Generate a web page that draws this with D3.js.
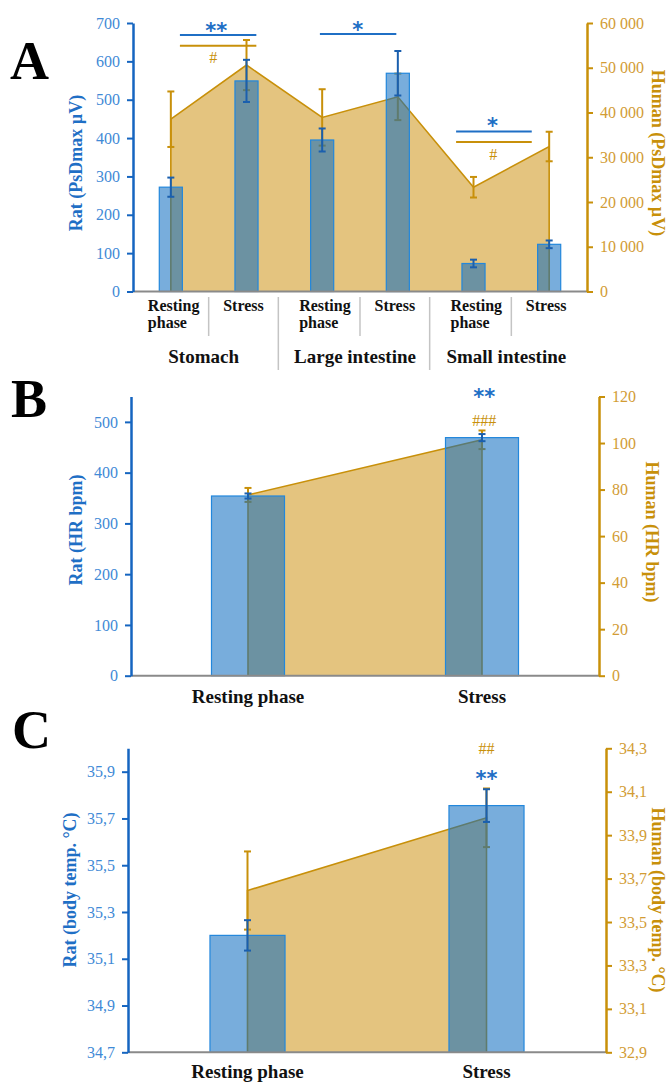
<!DOCTYPE html>
<html>
<head>
<meta charset="utf-8">
<style>
  body { margin: 0; background: #fff; }
</style>
</head>
<body>
<div id="chart"></div>
<script src="https://d3js.org/d3.v7.min.js"></script>
<script>
// ---- data ----
// A: pressure PsDmax (rat left axis, human right axis)
var giGroups = ["Stomach", "Large intestine", "Small intestine"];
var giPhases = ["Resting phase", "Stress"];
var ratPsd = [272, 549, 395, 569, 73, 123];
var ratPsdErr = [25, 55, 30, 58, 10, 10];
var humanPsd = [38500, 50600, 38900, 43500, 23300, 32400];
var humanPsdErr = [6200, 5600, 6300, 5200, 2300, 3300];
var ticksRatPsd = [0, 100, 200, 300, 400, 500, 600, 700];
var ticksHumanPsd = [0, 10000, 20000, 30000, 40000, 50000, 60000];

// B: heart rate
var phases = ["Resting phase", "Stress"];
var ratHr = [354, 469];
var ratHrErr = [5, 7];
var humanHr = [77.7, 101.4];
var humanHrErr = [3, 4];
var ticksRatHr = [0, 100, 200, 300, 400, 500];
var ticksHumanHr = [0, 20, 40, 60, 80, 100, 120];

// C: body temperature
var ratTemp = [35.2, 35.755];
var ratTempErr = [0.065, 0.07];
var humanTemp = [33.645, 33.98];
var humanTempErr = [0.18, 0.135];
var ticksRatTemp = [34.7, 34.9, 35.1, 35.3, 35.5, 35.7, 35.9];
var ticksHumanTemp = [32.9, 33.1, 33.3, 33.5, 33.7, 33.9, 34.1, 34.3];

// significance marks (x in category units, y in rat-axis units)
var sigA = [
  { x1: 0.62, x2: 1.63, v: 669, c: "b", t: "**", tx: 1.10, tv: 660 },
  { x1: 0.62, x2: 1.63, v: 641, c: "o", t: "#",  tx: 1.06, tv: 596 },
  { x1: 2.47, x2: 3.48, v: 671, c: "b", t: "*",  tx: 2.97, tv: 663 },
  { x1: 4.27, x2: 5.27, v: 417, c: "b", t: "*",  tx: 4.75, tv: 413 },
  { x1: 4.27, x2: 5.27, v: 390, c: "o", t: "#",  tx: 4.76, tv: 343 }
];
var sigB = [
  { c: "b", t: "**",  tx: 1.51, tv: 535 },
  { c: "o", t: "###", tx: 1.51, tv: 491 }
];
var sigC = [
  { c: "o", t: "##", tx: 1.5, tv: 35.975 },
  { c: "b", t: "**", tx: 1.5, tv: 35.84 }
];

// ---- style ----
var SERIF = "'Liberation Serif', 'Times New Roman', Times, 'DejaVu Serif', serif";
var SANS = "'DejaVu Sans', 'Liberation Sans', Arial, sans-serif";
var BLUE_AXIS = "#1565c0", BLUE_TXT = "#3f8ad6", BLUE_TITLE = "#1f6fc5", BLUE_ERR = "#1a5fae";
var GOLD = "#c8900a", GOLD_TXT = "#d29c34";
var fmtSpace = function (v) { return d3.format(",")(v).replace(/,/g, " "); };
var fmtComma = function (v) { return d3.format(".1f")(v).replace(".", ","); };

var svg = d3.select("#chart").append("svg")
    .attr("width", 671)
    .attr("height", 1084)
    .style("font-family", SERIF);

function errBars(g, vals, errs, y, cx, color, cap) {
  var e = g.append("g").attr("stroke", color).attr("stroke-width", 2);
  vals.forEach(function (v, i) {
    var x = cx(i);
    e.append("line").attr("x1", x).attr("x2", x).attr("y1", y(v - errs[i])).attr("y2", y(v + errs[i]));
    e.append("line").attr("x1", x - cap / 2).attr("x2", x + cap / 2).attr("y1", y(v - errs[i])).attr("y2", y(v - errs[i]));
    e.append("line").attr("x1", x - cap / 2).attr("x2", x + cap / 2).attr("y1", y(v + errs[i])).attr("y2", y(v + errs[i]));
  });
}

function panel(p) {
  var g = svg.append("g");
  var n = p.rat.length;
  var x = d3.scaleBand().domain(d3.range(n)).range([p.x0, p.x1]);
  var xi = d3.scaleLinear().domain([0, n]).range([p.x0, p.x1]);
  var cx = function (i) { return x(i) + x.bandwidth() / 2; };
  var yL = d3.scaleLinear().domain(p.leftDomain).range([p.yBottom, p.yTop]);
  var yR = d3.scaleLinear().domain(p.rightDomain).range([p.yBottom, p.yTop]);
  var bw = x.bandwidth() * p.barFrac;

  // human series: filled area with outline
  var pts = p.human.map(function (v, i) { return [i, v]; });
  g.append("path")
    .attr("d", d3.area().x(function (d) { return cx(d[0]); })
      .y0(yR(p.rightDomain[0])).y1(function (d) { return yR(d[1]); })(pts))
    .attr("fill", "#e4c47f");
  var outline = [[0, p.rightDomain[0]]].concat(pts, [[n - 1, p.rightDomain[0]]]);
  g.append("path")
    .attr("d", d3.line().x(function (d) { return cx(d[0]); }).y(function (d) { return yR(d[1]); })(outline))
    .attr("fill", "none")
    .attr("stroke", GOLD)
    .attr("stroke-width", 1.6);
  errBars(g, p.human, p.humanErr, yR, cx, GOLD, 7);

  // rat series: translucent bars
  g.append("g").selectAll("rect").data(p.rat).join("rect")
    .attr("x", function (d, i) { return cx(i) - bw / 2; })
    .attr("y", function (d) { return yL(d); })
    .attr("width", bw)
    .attr("height", function (d) { return yL(p.leftDomain[0]) - yL(d); })
    .attr("fill", "rgb(10,105,192)")
    .attr("fill-opacity", 0.55)
    .attr("stroke", "#2287dc")
    .attr("stroke-width", 1.2);
  errBars(g, p.rat, p.ratErr, yL, cx, BLUE_ERR, 7);

  // baseline
  g.append("line")
    .attr("x1", p.x0).attr("x2", p.x1)
    .attr("y1", p.yBottom).attr("y2", p.yBottom)
    .attr("stroke", "#8a8a8a").attr("stroke-width", 2);

  // left axis
  var la = g.append("g")
    .attr("transform", "translate(" + p.x0 + ",0)")
    .call(d3.axisLeft(yL).tickValues(p.leftTicks).tickFormat(p.leftFmt)
      .tickSize(6).tickSizeOuter(0).tickPadding(7));
  la.attr("font-family", null);
  la.select(".domain").attr("stroke", BLUE_AXIS).attr("stroke-width", 2.5);
  la.selectAll(".tick line").attr("stroke", BLUE_AXIS).attr("stroke-width", 2);
  la.selectAll(".tick text").attr("fill", BLUE_TXT).style("font-size", "16px");

  // right axis
  var ra = g.append("g")
    .attr("transform", "translate(" + p.x1 + ",0)")
    .call(d3.axisRight(yR).tickValues(p.rightTicks).tickFormat(p.rightFmt)
      .tickSize(6).tickSizeOuter(0).tickPadding(7));
  ra.attr("font-family", null);
  ra.select(".domain").attr("stroke", GOLD).attr("stroke-width", 2.5);
  ra.selectAll(".tick line").attr("stroke", GOLD).attr("stroke-width", 2);
  ra.selectAll(".tick text").attr("fill", GOLD_TXT).style("font-size", "16px");

  // axis titles
  g.append("text")
    .attr("transform", "translate(" + p.ltX + "," + p.ltY + ") rotate(-90)")
    .attr("text-anchor", "middle")
    .style("font-size", "18px").style("font-weight", "bold")
    .attr("fill", BLUE_TITLE)
    .text(p.leftTitle);
  g.append("text")
    .attr("transform", "translate(" + p.rtX + "," + p.rtY + ") rotate(90)")
    .attr("text-anchor", "middle")
    .style("font-size", "18px").style("font-weight", "bold")
    .attr("fill", GOLD)
    .text(p.rightTitle);

  // panel letter
  g.append("text")
    .attr("x", p.letterX).attr("y", p.letterY)
    .style("font-size", "54px").style("font-weight", "bold")
    .attr("fill", "#000")
    .text(p.letter);

  // significance
  p.sig.forEach(function (s) {
    var col = s.c === "b" ? BLUE_TITLE : GOLD;
    if (s.x1 !== undefined) {
      g.append("line")
        .attr("x1", xi(s.x1)).attr("x2", xi(s.x2))
        .attr("y1", yL(s.v)).attr("y2", yL(s.v))
        .attr("stroke", col).attr("stroke-width", 2);
    }
    g.append("text")
      .classed("mark", s.c === "b")
      .attr("x", xi(s.tx)).attr("y", yL(s.tv))
      .attr("text-anchor", "middle")
      .attr("fill", col)
      .style("font-family", s.c === "b" ? SANS : SERIF)
      .style("font-weight", s.c === "b" ? "bold" : "normal")
      .style("font-size", s.c === "b" ? "21px" : "16px")
      .text(s.t);
  });

  return { g: g, cx: cx, x: x };
}

// ---- panel A ----
var A = panel({
  x0: 133, x1: 587, yTop: 23, yBottom: 291.5,
  leftDomain: [0, 700], rightDomain: [0, 60000],
  leftTicks: ticksRatPsd, rightTicks: ticksHumanPsd,
  leftFmt: d3.format("d"), rightFmt: fmtSpace,
  rat: ratPsd, ratErr: ratPsdErr, human: humanPsd, humanErr: humanPsdErr,
  barFrac: 0.305,
  leftTitle: "Rat (PsDmax \u00b5V)", ltX: 82, ltY: 163,
  rightTitle: "Human (PsDmax \u00b5V)", rtX: 652, rtY: 153,
  letter: "A", letterX: 10, letterY: 79,
  sig: sigA
});

// category / group labels under A
var catA = [];
giGroups.forEach(function (gr) { giPhases.forEach(function (ph) { catA.push(ph); }); });
catA.forEach(function (ph, i) {
  var t = A.g.append("text")
    .style("font-size", "16px").style("font-weight", "bold")
    .attr("fill", "#111");
  if (ph === "Resting phase") {
    t.attr("x", A.cx(i) - 23).attr("y", 311).attr("text-anchor", "start");
    t.append("tspan").attr("x", A.cx(i) - 23).text("Resting");
    t.append("tspan").attr("x", A.cx(i) - 23).attr("dy", 17).text("phase");
  } else {
    t.attr("x", A.cx(i) - 3).attr("y", 311).attr("text-anchor", "middle").text(ph);
  }
});
giGroups.forEach(function (gr, k) {
  A.g.append("text")
    .attr("x", (A.cx(2 * k) + A.cx(2 * k + 1)) / 2 - 5)
    .attr("y", 363)
    .attr("text-anchor", "middle")
    .style("font-size", "19px").style("font-weight", "bold")
    .attr("fill", "#111")
    .text(gr);
});
// separators: short between phases, long between organs
d3.range(1, catA.length).forEach(function (i) {
  var group = i % 2 === 0;
  var bx = group ? A.x(i) - 6 : A.x(i);
  A.g.append("line")
    .attr("x1", bx).attr("x2", bx)
    .attr("y1", 297).attr("y2", group ? 370 : 336)
    .attr("stroke", "#c4c4c4").attr("stroke-width", 1.5);
});

// ---- panel B ----
var B = panel({
  x0: 131, x1: 599, yTop: 396.5, yBottom: 675.7,
  leftDomain: [0, 550], rightDomain: [0, 120],
  leftTicks: ticksRatHr, rightTicks: ticksHumanHr,
  leftFmt: d3.format("d"), rightFmt: d3.format("d"),
  rat: ratHr, ratErr: ratHrErr, human: humanHr, humanErr: humanHrErr,
  barFrac: 0.312,
  leftTitle: "Rat (HR bpm)", ltX: 82, ltY: 530,
  rightTitle: "Human (HR bpm)", rtX: 646, rtY: 532,
  letter: "B", letterX: 11, letterY: 417,
  sig: sigB
});
phases.forEach(function (ph, i) {
  B.g.append("text")
    .attr("x", B.cx(i)).attr("y", 703)
    .attr("text-anchor", "middle")
    .style("font-size", "19px").style("font-weight", "bold")
    .attr("fill", "#111")
    .text(ph);
});

// ---- panel C ----
var C = panel({
  x0: 128, x1: 606, yTop: 748.3, yBottom: 1052.3,
  leftDomain: [34.7, 36.0], rightDomain: [32.9, 34.3],
  leftTicks: ticksRatTemp, rightTicks: ticksHumanTemp,
  leftFmt: fmtComma, rightFmt: fmtComma,
  rat: ratTemp, ratErr: ratTempErr, human: humanTemp, humanErr: humanTempErr,
  barFrac: 0.314,
  leftTitle: "Rat (body temp. \u00b0C)", ltX: 76, ltY: 890,
  rightTitle: "Human (body temp. \u00b0C)", rtX: 652, rtY: 900,
  letter: "C", letterX: 12, letterY: 748,
  sig: sigC
});
phases.forEach(function (ph, i) {
  C.g.append("text")
    .attr("x", C.cx(i)).attr("y", 1078)
    .attr("text-anchor", "middle")
    .style("font-size", "19px").style("font-weight", "bold")
    .attr("fill", "#111")
    .text(ph);
});

// fonts: serif everywhere except the asterisk marks
svg.selectAll("text:not(.mark)").style("font-family", SERIF);
</script>
</body>
</html>
